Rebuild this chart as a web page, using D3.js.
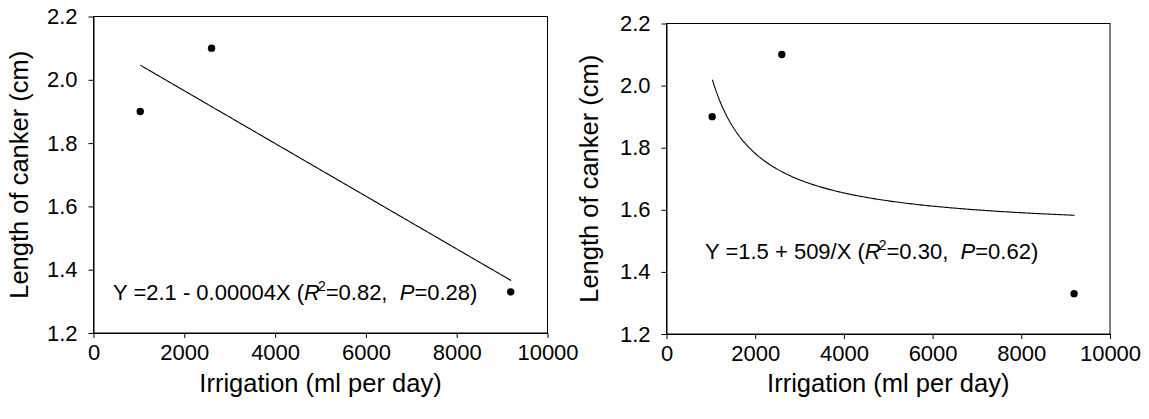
<!DOCTYPE html>
<html>
<head>
<meta charset="utf-8">
<script src="https://cdn.jsdelivr.net/npm/d3@7"></script>
<style>
  html, body { margin: 0; padding: 0; background: #fff; }
  svg { display: block; font-family: "Liberation Sans", Arial, sans-serif; }
  .eq { white-space: pre; }
</style>
</head>
<body>
<svg id="chart" width="1149" height="419"></svg>
<script>
// Canker length against daily irrigation, with two fitted models
const irrigation = [1030, 2600, 9190];
const cankerLength = [1.90, 2.10, 1.33];
const xTicks = [0, 2000, 4000, 6000, 8000, 10000];
const yTicks = [1.2, 1.4, 1.6, 1.8, 2.0, 2.2];
const xDomain = [0, 10000];
const yDomain = [1.2, 2.2];
const fitRange = [1035, 9200];
const linearFit = [2.132, -0.0000833];   // intercept, slope
const reciprocalFit = [1.527, 509];      // a + b / x
const xTitle = "Irrigation (ml per day)";
const yTitle = "Length of canker (cm)";
const linearEq = ["Y =2.1 - 0.00004X (", "R", "2", "=0.82,  ", "P", "=0.28)"];
const reciprocalEq = ["Y =1.5 + 509/X (", "R", "2", "=0.30,  ", "P", "=0.62)"];

const svg = d3.select("#chart");

const panels = [
  { left: 93.5, right: 547.5, top: 16.5, bottom: 333, model: x => linearFit[0] + linearFit[1] * x,
    eq: linearEq, eqX: 113, eqY: 300, yTitleX: 28 },
  { left: 666.5, right: 1110, top: 23.5, bottom: 334, model: x => reciprocalFit[0] + reciprocalFit[1] / x,
    eq: reciprocalEq, eqX: 705, eqY: 259, yTitleX: 598 }
];

panels.forEach(p => {
  const x = d3.scaleLinear().domain(xDomain).range([p.left, p.right]);
  const y = d3.scaleLinear().domain(yDomain).range([p.bottom, p.top]);
  const g = svg.append("g");

  // frame
  g.append("rect")
    .attr("x", p.left).attr("y", p.top)
    .attr("width", p.right - p.left).attr("height", p.bottom - p.top)
    .attr("fill", "none").attr("stroke", "#000").attr("stroke-width", 1);

  const yAxis = d3.axisLeft(y).tickValues(yTicks).tickFormat(d3.format(".1f"))
    .tickSize(5).tickPadding(11).tickSizeOuter(0);
  const xAxis = d3.axisBottom(x).tickValues(xTicks).tickFormat(d => String(d))
    .tickSize(5).tickPadding(6).tickSizeOuter(0);

  const ya = g.append("g").attr("transform", `translate(${p.left},0)`).call(yAxis);
  const xa = g.append("g").attr("transform", `translate(0,${p.bottom})`).call(xAxis);
  [ya, xa].forEach(a => {
    a.select(".domain").attr("stroke", "#000");
    a.selectAll(".tick line").attr("stroke", "#000");
    a.selectAll(".tick text").attr("fill", "#000")
      .style("font-family", "'Liberation Sans', Arial, sans-serif").style("font-size", "22px");
  });

  // fitted model
  const xs = d3.range(0, 201).map(i => fitRange[0] + (fitRange[1] - fitRange[0]) * i / 200);
  g.append("path")
    .datum(xs)
    .attr("d", d3.line().x(d => x(d)).y(d => y(p.model(d))))
    .attr("fill", "none").attr("stroke", "#000").attr("stroke-width", 1.1);

  // observations
  g.selectAll("circle.obs")
    .data(irrigation.map((v, i) => [v, cankerLength[i]]))
    .join("circle")
    .attr("class", "obs")
    .attr("cx", d => x(d[0])).attr("cy", d => y(d[1])).attr("r", 3.7)
    .attr("fill", "#000");

  // equation
  const t = g.append("text").attr("class", "eq").attr("x", p.eqX).attr("y", p.eqY)
    .attr("font-size", 22).attr("fill", "#000");
  t.append("tspan").text(p.eq[0]);
  t.append("tspan").attr("font-style", "italic").text(p.eq[1]);
  t.append("tspan").attr("font-size", 14).attr("dx", -2).attr("dy", -9).text(p.eq[2]);
  t.append("tspan").attr("dy", 9).text(p.eq[3]);
  t.append("tspan").attr("font-style", "italic").text(p.eq[4]);
  t.append("tspan").text(p.eq[5]);

  // axis titles
  g.append("text")
    .attr("x", (p.left + p.right) / 2).attr("y", 392)
    .attr("text-anchor", "middle").attr("font-size", 25.5).attr("fill", "#000")
    .text(xTitle);
  g.append("text")
    .attr("transform", `translate(${p.yTitleX},${(p.top + p.bottom) / 2}) rotate(-90)`)
    .attr("text-anchor", "middle").attr("font-size", 25.5).attr("fill", "#000")
    .text(yTitle);
});
</script>
</body>
</html>
